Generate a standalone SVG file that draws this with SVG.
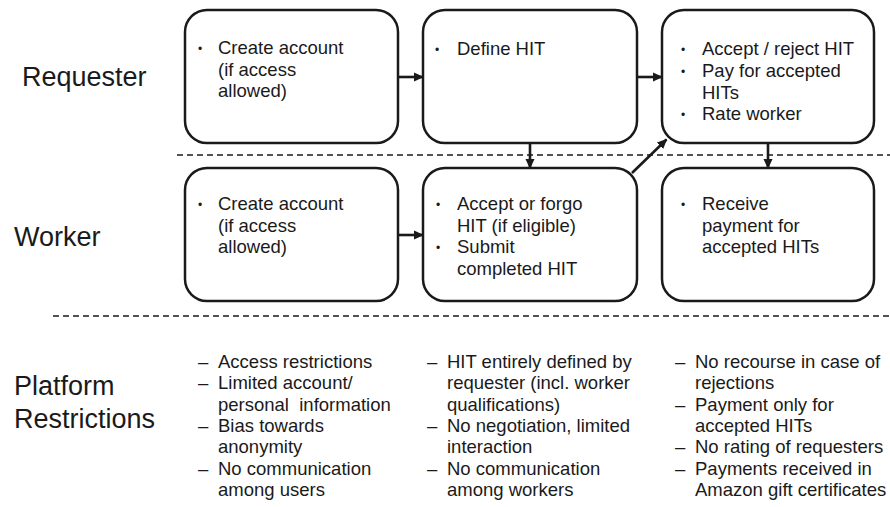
<svg xmlns="http://www.w3.org/2000/svg" width="890" height="507" viewBox="0 0 890 507">
<style>
text{font-family:"Liberation Sans",Arial,sans-serif;fill:#1a1a1a}
.t{font-size:18.5px}
.lab{font-size:27px}
.b{font-size:12px}
.box{fill:#fff;stroke:#1a1a1a;stroke-width:2.5}
.dash{stroke:#1a1a1a;stroke-width:1.3;stroke-dasharray:6 4;fill:none}
.arr{stroke:#1a1a1a;stroke-width:2.6;fill:none;marker-end:url(#ah)}
</style>
<defs>
<marker id="ah" markerWidth="10" markerHeight="10" refX="9" refY="5" orient="auto" markerUnits="userSpaceOnUse" viewBox="0 0 10 10">
<path d="M0,0.5 L10,5 L0,9.5 Z" fill="#1a1a1a"/>
</marker>
</defs>
<rect width="890" height="507" fill="#fff"/>
<g id="lanes">
<line class="dash" x1="177" y1="155" x2="890" y2="155"/>
<line class="dash" x1="53" y1="316" x2="890" y2="316"/>
<text class="lab" x="22" y="86">Requester</text>
<text class="lab" x="14" y="246">Worker</text>
<text class="lab" x="14" y="395">Platform</text>
<text class="lab" x="14" y="428">Restrictions</text>
</g>
<g id="connectors">
<line class="arr" x1="398" y1="77" x2="423" y2="77"/>
<line class="arr" x1="637" y1="77" x2="662" y2="77"/>
<line class="arr" x1="398" y1="235" x2="423" y2="235"/>
<line class="arr" x1="530" y1="143" x2="530" y2="168"/>
<line class="arr" x1="768" y1="143" x2="768" y2="168"/>
<line class="arr" x1="632" y1="173" x2="666.5" y2="139.5"/>
</g>
<g id="req-create">
<rect class="box" x="185" y="10" width="213" height="133" rx="22"/>
<text class="b" x="198" y="53">•</text>
<text class="t" x="218" y="54">Create account</text>
<text class="t" x="218" y="75.5">(if access</text>
<text class="t" x="218" y="97">allowed)</text>
</g>
<g id="req-define">
<rect class="box" x="423" y="10" width="214" height="133" rx="22"/>
<text class="b" x="435" y="54">•</text>
<text class="t" x="457" y="55">Define HIT</text>
</g>
<g id="req-accept">
<rect class="box" x="662" y="10" width="212" height="133" rx="22"/>
<text class="b" x="681" y="54">•</text>
<text class="t" x="702" y="55">Accept / reject HIT</text>
<text class="b" x="681" y="75.8">•</text>
<text class="t" x="702" y="76.8">Pay for accepted</text>
<text class="t" x="702" y="98.6">HITs</text>
<text class="b" x="681" y="119.4">•</text>
<text class="t" x="702" y="120.4">Rate worker</text>
</g>
<g id="wrk-create">
<rect class="box" x="185" y="168" width="213" height="133" rx="22"/>
<text class="b" x="198" y="209">•</text>
<text class="t" x="218" y="210">Create account</text>
<text class="t" x="218" y="231.5">(if access</text>
<text class="t" x="218" y="253">allowed)</text>
</g>
<g id="wrk-accept">
<rect class="box" x="423" y="168" width="214" height="133" rx="22"/>
<text class="b" x="436" y="209">•</text>
<text class="t" x="457" y="210">Accept or forgo</text>
<text class="t" x="457" y="231.5">HIT (if eligible)</text>
<text class="b" x="436" y="252">•</text>
<text class="t" x="457" y="253">Submit</text>
<text class="t" x="457" y="274.5">completed HIT</text>
</g>
<g id="wrk-receive">
<rect class="box" x="662" y="168" width="212" height="133" rx="22"/>
<text class="b" x="681" y="209">•</text>
<text class="t" x="702" y="210">Receive</text>
<text class="t" x="702" y="231.5">payment for</text>
<text class="t" x="702" y="253">accepted HITs</text>
</g>
<g id="restr-1">
<text class="t" x="198" y="368">–</text>
<text class="t" x="218" y="368">Access restrictions</text>
<text class="t" x="198" y="389.3">–</text>
<text class="t" x="218" y="389.3">Limited account/</text>
<text class="t" x="218" y="410.6">personal&#160; information</text>
<text class="t" x="198" y="432">–</text>
<text class="t" x="218" y="432">Bias towards</text>
<text class="t" x="218" y="453.2">anonymity</text>
<text class="t" x="198" y="474.5">–</text>
<text class="t" x="218" y="474.5">No communication</text>
<text class="t" x="218" y="495.8">among users</text>
</g>
<g id="restr-2">
<text class="t" x="427" y="368">–</text>
<text class="t" x="447" y="368">HIT entirely defined by</text>
<text class="t" x="447" y="389.3">requester (incl. worker</text>
<text class="t" x="447" y="410.6">qualifications)</text>
<text class="t" x="427" y="432">–</text>
<text class="t" x="447" y="432">No negotiation, limited</text>
<text class="t" x="447" y="453.2">interaction</text>
<text class="t" x="427" y="474.5">–</text>
<text class="t" x="447" y="474.5">No communication</text>
<text class="t" x="447" y="495.8">among workers</text>
</g>
<g id="restr-3">
<text class="t" x="675" y="368">–</text>
<text class="t" x="695" y="368">No recourse in case of</text>
<text class="t" x="695" y="389.3">rejections</text>
<text class="t" x="675" y="410.6">–</text>
<text class="t" x="695" y="410.6">Payment only for</text>
<text class="t" x="695" y="432">accepted HITs</text>
<text class="t" x="675" y="453.2">–</text>
<text class="t" x="695" y="453.2">No rating of requesters</text>
<text class="t" x="675" y="474.5">–</text>
<text class="t" x="695" y="474.5">Payments received in</text>
<text class="t" x="695" y="495.8">Amazon gift certificates</text>
</g>
</svg>
